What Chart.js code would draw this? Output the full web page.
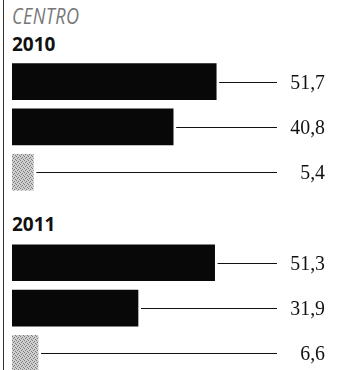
<!DOCTYPE html>
<html>
<head>
<meta charset="utf-8">
<script src="https://cdn.jsdelivr.net/npm/chart.js@4"></script>
<style>
  body { margin: 0; background: #fff; }
  #wrap { position: relative; width: 339px; height: 370px; overflow: hidden; background: #fff; }
  #rule { position: absolute; left: 3px; top: 0; width: 1px; height: 370px; background: #333; }
  .title { position: absolute; left: 12px; top: 0px; font: italic 22px "Open Sans", sans-serif; color: #777;
           transform: scaleX(0.82); transform-origin: left top; letter-spacing: 0.5px; }
  .year { position: absolute; left: 12px; font: bold 19px "Open Sans", sans-serif; color: #111; }
  canvas { position: absolute; left: 0; top: 0; }
</style>
</head>
<body>
<div id="wrap">
  <div id="rule"></div>
  <div class="title">CENTRO</div>
  <div class="year" style="top:31px">2010</div>
  <div class="year" style="top:211px">2011</div>
  <canvas id="myChart" width="339" height="376"></canvas>
</div>
<script>
const years = ["2010", "2011"];
const values2010 = [51.7, 40.8, 5.4];
const values2011 = [51.3, 31.9, 6.6];
const rowKinds = ["a", "b", "c"];

// grey dotted fill for the small third bar
function greyPattern() {
  const c = document.createElement("canvas");
  c.width = 4; c.height = 4;
  const g = c.getContext("2d");
  g.fillStyle = "#cfcfcf";
  g.fillRect(0, 0, 4, 4);
  g.fillStyle = "#7a7a7a";
  g.fillRect(0, 0, 1, 1); g.fillRect(2, 1, 1, 1); g.fillRect(1, 2, 1, 1); g.fillRect(3, 3, 1, 1);
  return g.createPattern(c, "repeat");
}

const grey = greyPattern();
const barColors = ["#080808", "#080808", grey];

// one row per bar, with an empty row between the two years
let labels = [];
let values = [];
let colors = [];
years.forEach((y, i) => {
  if (i > 0) { labels.push(""); values.push(null); colors.push("#fff"); }
  const vals = i === 0 ? values2010 : values2011;
  vals.forEach((v, j) => {
    labels.push(y + " " + rowKinds[j]);
    values.push(v);
    colors.push(barColors[j]);
  });
});

const leaderLabels = {
  id: "leaderLabels",
  afterDatasetsDraw(chart) {
    const ctx = chart.ctx;
    const meta = chart.getDatasetMeta(0);
    ctx.save();
    ctx.strokeStyle = "#111";
    ctx.lineWidth = 1;
    ctx.fillStyle = "#111";
    ctx.font = "22px 'Liberation Serif', serif";
    ctx.textAlign = "right";
    ctx.textBaseline = "middle";
    meta.data.forEach((bar, i) => {
      const v = values[i];
      if (v == null) return;
      const y = Math.round(bar.y) + 0.5;
      ctx.beginPath();
      ctx.moveTo(bar.x + 3, y);
      ctx.lineTo(277, y);
      ctx.stroke();
      // slightly narrowed serif numbers
      ctx.save();
      ctx.translate(325, y + 1);
      ctx.scale(0.9, 1);
      ctx.fillText(v.toFixed(1).replace(".", ","), 0, 0);
      ctx.restore();
    });
    ctx.restore();
  }
};

const ctx = document.getElementById("myChart").getContext("2d");
const myChart = new Chart(ctx, {
  type: "bar",
  data: {
    labels: labels,
    datasets: [{
      data: values,
      backgroundColor: colors,
      borderWidth: 0,
      barThickness: 36
    }]
  },
  options: {
    indexAxis: "y",
    responsive: false,
    animation: false,
    layout: { padding: { left: 12, right: 11, top: 59, bottom: 0 } },
    scales: {
      x: { min: 0, max: 80, display: false },
      y: { display: false }
    },
    plugins: { legend: { display: false }, tooltip: { enabled: false } }
  },
  plugins: [leaderLabels]
});
</script>
</body>
</html>
